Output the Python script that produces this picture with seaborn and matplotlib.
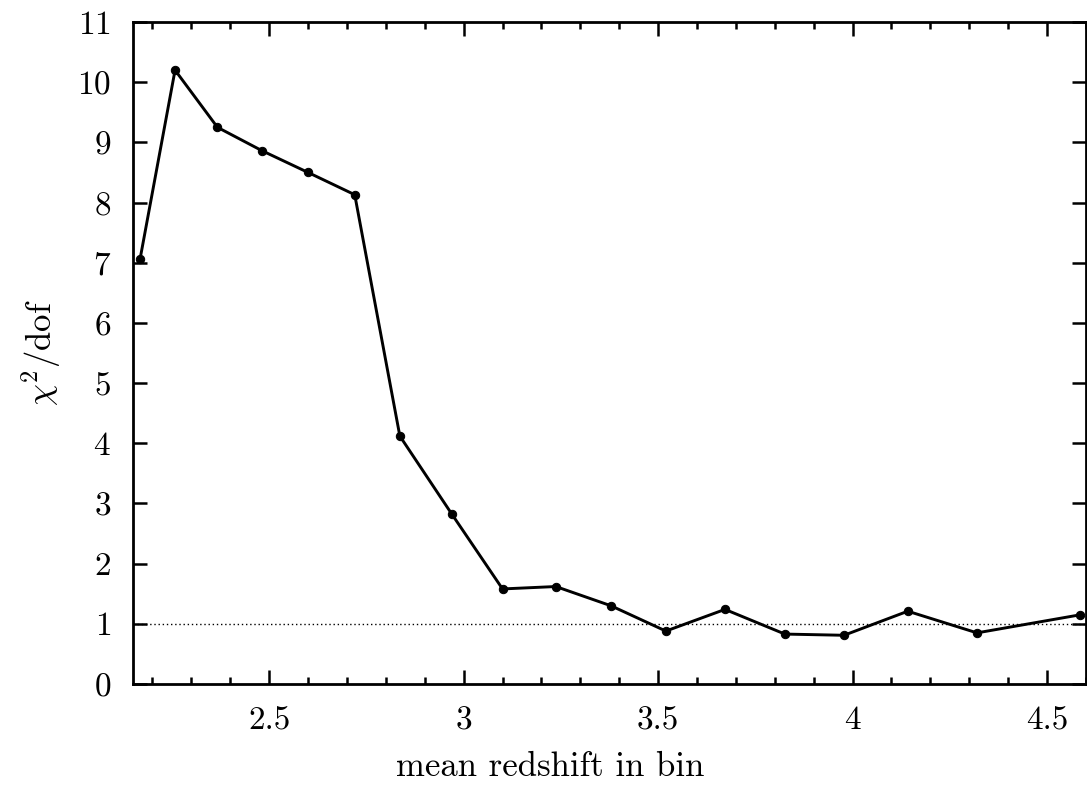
import matplotlib
matplotlib.use("Agg")
import matplotlib.pyplot as plt
import seaborn as sns
import pandas as pd
from matplotlib.ticker import MultipleLocator

redshift = [2.168, 2.258, 2.367, 2.482, 2.600, 2.720, 2.836, 2.970, 3.100, 3.237,
            3.379, 3.520, 3.672, 3.826, 3.978, 4.142, 4.320, 4.585]
chi2_dof = [7.06, 10.20, 9.25, 8.86, 8.50, 8.13, 4.12, 2.82, 1.58, 1.62,
            1.30, 0.88, 1.24, 0.83, 0.81, 1.21, 0.85, 1.15]
reference_level = 1.0
x_ticks = [2.5, 3.0, 3.5, 4.0, 4.5]
x_tick_labels = ["2.5", "3", "3.5", "4", "4.5"]
y_ticks = list(range(0, 12))

sns.set_theme(style="ticks")
plt.rcParams["font.family"] = ["serif"]
plt.rcParams["font.serif"] = ["cmr10", "DejaVu Serif"]
plt.rcParams["mathtext.fontset"] = "cm"
plt.rcParams["axes.formatter.use_mathtext"] = True
plt.rcParams["text.color"] = "black"
plt.rcParams["axes.labelcolor"] = "black"
plt.rcParams["xtick.color"] = "black"
plt.rcParams["ytick.color"] = "black"

df = pd.DataFrame({"z": redshift, "chi": chi2_dof})

fig = plt.figure(figsize=(10.87, 7.94), dpi=100)
ax = fig.add_axes([0.1224, 0.1385, 0.8766, 0.8338])

ax.axhline(reference_level, color="black", lw=1.0, ls=(0, (1, 2)), zorder=1)
sns.lineplot(data=df, x="z", y="chi", ax=ax, color="black", lw=2.1,
             marker="o", markersize=6, markeredgecolor="black", sort=False, zorder=3)

ax.set_xlim(2.15, 4.6)
ax.set_ylim(0, 11)
ax.set_xticks(x_ticks)
ax.set_xticklabels(x_tick_labels)
ax.set_yticks(y_ticks)
ax.xaxis.set_minor_locator(MultipleLocator(0.1))

ax.tick_params(axis="both", which="both", direction="in", top=True, right=True,
               labelsize=24, colors="black", labelcolor="black", width=1.8)
ax.tick_params(which="major", length=10, pad=16)
ax.tick_params(which="minor", length=5)
for s in ax.spines.values():
    s.set_linewidth(2)
    s.set_color("black")

ax.set_xlabel("mean redshift in bin", fontsize=25, labelpad=14, color="black")
ax.xaxis.set_label_coords(0.4376, -0.102)
ax.set_ylabel(r"$\chi^2$/dof", fontsize=25, labelpad=10, color="black")
ax.grid(False)

fig.savefig("out.png", dpi=100, facecolor="white")
